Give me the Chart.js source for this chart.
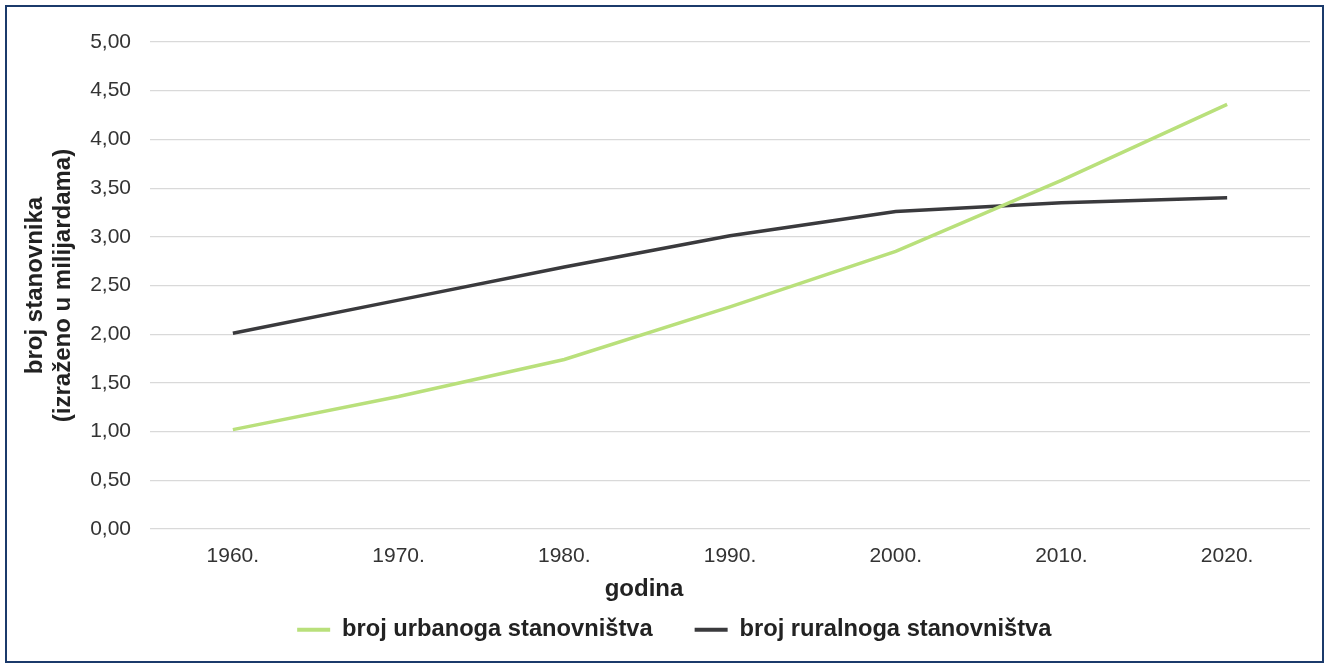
<!DOCTYPE html>
<html>
<head>
<meta charset="utf-8">
<script src="https://cdn.jsdelivr.net/npm/chart.js@4.4.0/dist/chart.umd.min.js"></script>
<style>
  html,body{margin:0;padding:0;background:#fff;}
  #wrap{position:absolute;left:0;top:0;width:1329px;height:668px;}
  #frame{position:absolute;left:5px;top:5px;width:1319px;height:658px;border:2.5px solid #1b3a6b;box-sizing:border-box;pointer-events:none;}
</style>
</head>
<body>
<div id="wrap"><canvas id="c" width="1329" height="668"></canvas></div>
<div id="frame"></div>
<script>
const categories = ['1960.','1970.','1980.','1990.','2000.','2010.','2020.'];
const urbanValues = [1.02, 1.36, 1.74, 2.28, 2.85, 3.58, 4.36];
const ruralValues = [2.01, 2.35, 2.69, 3.01, 3.26, 3.35, 3.40];
const seriesNames = ['broj urbanoga stanovništva', 'broj ruralnoga stanovništva'];
const yTitle = ['broj stanovnika', '(izraženo u milijardama)'];
const xTitle = 'godina';

const FONT = "'Liberation Sans', Arial, sans-serif";
const green = '#b9e07b';
const dark = '#3a3a3d';
const LEFT_PAD = 38.6;
const X_TITLE_SHIFT = -86;

// shift the x-axis title horizontally (reference places it left of the plot centre)
const shiftXTitle = {
  id: 'shiftXTitle',
  afterLayout(chart) {
    const s = chart.scales.x;
    if (s._origDrawTitle) return;
    s._origDrawTitle = s.drawTitle;
    s.drawTitle = function () {
      const ctx = this.ctx;
      ctx.save();
      ctx.translate(X_TITLE_SHIFT, 0);
      this._origDrawTitle();
      ctx.restore();
    };
  }
};

new Chart(document.getElementById('c'), {
  type: 'line',
  data: {
    labels: categories,
    datasets: [
      {label: seriesNames[0], data: urbanValues, borderColor: green, backgroundColor: green, borderWidth: 3.5, pointRadius: 0, tension: 0},
      {label: seriesNames[1], data: ruralValues, borderColor: dark, backgroundColor: dark, borderWidth: 3.5, pointRadius: 0, tension: 0}
    ]
  },
  plugins: [shiftXTitle],
  options: {
    responsive: false,
    animation: false,
    devicePixelRatio: 1,
    layout: {padding: {top: 42, right: 19, left: LEFT_PAD, bottom: 16.3}},
    plugins: {
      tooltip: {enabled: false},
      legend: {
        position: 'bottom',
        labels: {
          color: '#222',
          font: {family: FONT, size: 23.7, weight: 'bold'},
          boxWidth: 33, boxHeight: 4, padding: 42,
          generateLabels: chart => Chart.defaults.plugins.legend.labels.generateLabels(chart).map(l => Object.assign(l, {lineWidth: 0}))
        }
      }
    },
    scales: {
      x: {
        offset: true,
        grid: {display: false, drawTicks: false},
        border: {display: false},
        ticks: {color: '#333', font: {family: FONT, size: 21}, padding: 15},
        title: {display: true, text: xTitle, color: '#222', font: {family: FONT, size: 24, weight: 'bold'}, padding: {top: 0, bottom: -28}},
        afterFit: s => { s.height = 47; }
      },
      y: {
        min: 0, max: 5,
        ticks: {stepSize: 0.5, color: '#333', font: {family: FONT, size: 21}, padding: 19,
          callback: v => v.toFixed(2).replace('.', ',')},
        grid: {color: '#d9d9d9', lineWidth: 1.2, drawTicks: false},
        border: {display: false},
        title: {display: true, text: yTitle, color: '#222', font: {family: FONT, size: 24, weight: 'bold', lineHeight: 1.2}, padding: {top: -18, bottom: 0}},
        afterFit: s => { s.width = 150 - LEFT_PAD; }
      }
    }
  }
});
</script>
</body>
</html>
